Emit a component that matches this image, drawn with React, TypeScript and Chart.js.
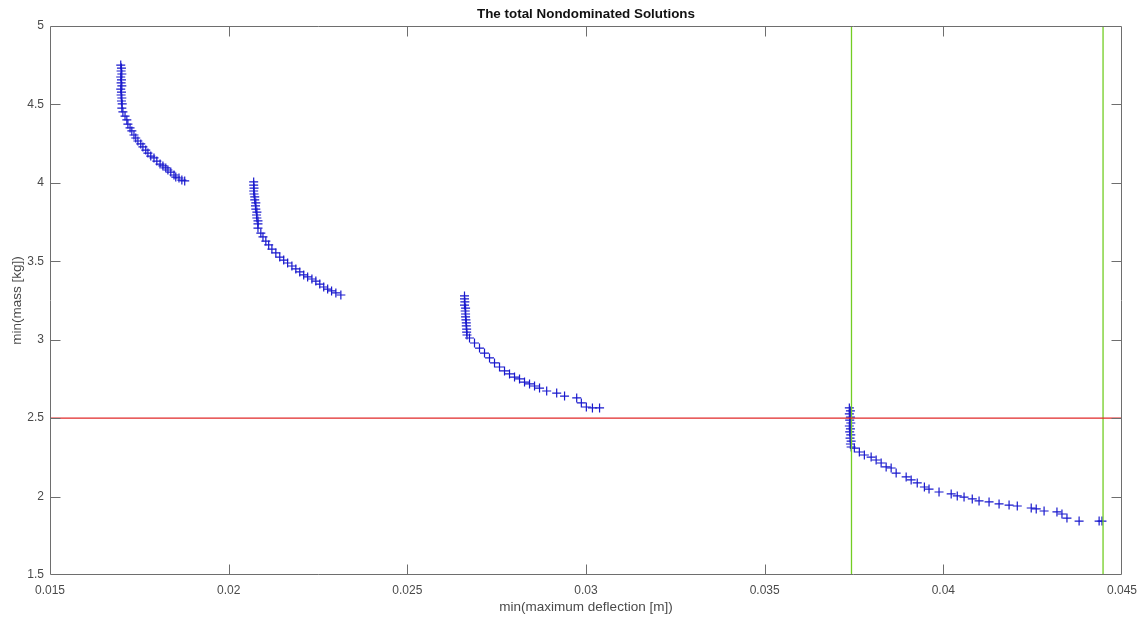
import React, { useEffect, useRef } from "react";
import { Chart, registerables } from "chart.js";

Chart.register(...registerables);

// Front 1
const front1X = [0.01698,0.01700,0.01699,0.01701,0.01698,0.01700,0.01699,0.01701,0.01698,0.01700,0.01699,0.01701,0.01700,0.01702,0.01701,0.01704,0.01710,0.01715,0.01718,0.01724,0.01729,0.01735,0.01740,0.01746,0.01754,0.01760,0.01768,0.01774,0.01782,0.01791,0.01799,0.01808,0.01816,0.01824,0.01830,0.01838,0.01847,0.01852,0.01861,0.01869,0.01877];
const front1Y = [4.751,4.732,4.713,4.694,4.675,4.656,4.637,4.618,4.598,4.579,4.560,4.541,4.522,4.503,4.477,4.452,4.426,4.401,4.375,4.350,4.331,4.305,4.286,4.267,4.248,4.229,4.209,4.190,4.171,4.159,4.139,4.120,4.108,4.095,4.082,4.069,4.050,4.037,4.031,4.018,4.012];

// Front 2
const front2X = [0.02070,0.02070,0.02071,0.02070,0.02071,0.02073,0.02073,0.02076,0.02075,0.02076,0.02079,0.02078,0.02079,0.02082,0.02082,0.02082,0.02090,0.02096,0.02104,0.02112,0.02121,0.02132,0.02143,0.02154,0.02165,0.02177,0.02188,0.02199,0.02210,0.02221,0.02233,0.02244,0.02255,0.02266,0.02277,0.02288,0.02300,0.02314];
const front2Y = [4.006,3.986,3.967,3.948,3.929,3.910,3.891,3.872,3.853,3.833,3.814,3.795,3.776,3.757,3.738,3.712,3.680,3.655,3.629,3.604,3.578,3.553,3.527,3.508,3.489,3.470,3.451,3.432,3.413,3.400,3.387,3.374,3.355,3.336,3.323,3.311,3.298,3.285];

// Front 3
const front3X = [0.02660,0.02660,0.02661,0.02660,0.02663,0.02662,0.02663,0.02663,0.02664,0.02665,0.02665,0.02666,0.02666,0.02667,0.02674,0.02688,0.02702,0.02716,0.02730,0.02744,0.02758,0.02772,0.02786,0.02800,0.02814,0.02828,0.02842,0.02856,0.02870,0.02890,0.02918,0.02940,0.02974,0.02987,0.03001,0.03018,0.03038];
const front3Y = [3.279,3.260,3.241,3.221,3.202,3.183,3.164,3.145,3.126,3.107,3.088,3.068,3.049,3.030,3.011,2.979,2.947,2.915,2.884,2.852,2.826,2.801,2.782,2.762,2.750,2.730,2.718,2.705,2.692,2.673,2.660,2.641,2.629,2.597,2.571,2.565,2.565];

// Front 4
const front4X = [0.03737,0.03740,0.03737,0.03740,0.03738,0.03741,0.03737,0.03740,0.03738,0.03741,0.03739,0.03742,0.03740,0.03742,0.03751,0.03765,0.03779,0.03798,0.03812,0.03826,0.03840,0.03854,0.03868,0.03896,0.03910,0.03927,0.03947,0.03960,0.03988,0.04022,0.04039,0.04058,0.04081,0.04100,0.04128,0.04156,0.04184,0.04207,0.04246,0.04260,0.04282,0.04318,0.04332,0.04346,0.04380,0.04436,0.04444];
const front4Y = [2.565,2.546,2.527,2.507,2.488,2.469,2.450,2.431,2.412,2.393,2.373,2.354,2.335,2.316,2.309,2.284,2.265,2.252,2.233,2.214,2.189,2.182,2.150,2.125,2.106,2.087,2.061,2.048,2.029,2.017,2.004,1.997,1.985,1.972,1.966,1.953,1.946,1.940,1.927,1.921,1.908,1.902,1.889,1.863,1.844,1.844,1.844];

// Reference lines
const massLimit = 2.5;
const deflectionLines = [0.03743, 0.04447];

// Axis ranges / ticks
const xMin = 0.015, xMax = 0.045, xStep = 0.005;
const yMin = 1.5, yMax = 5, yStep = 0.5;

const TITLE = "The total Nondominated Solutions";
const X_TITLE = "min(maximum deflection [m])";
const Y_TITLE = "min(mass [kg])";

const FONT = "'Liberation Sans', Arial, Helvetica, sans-serif";
const AXIS_COLOR = "#6e6e6e";
const TEXT_COLOR = "#4a4a4a";
const MARK_COLOR = "rgb(25,25,205)";
const GREEN = "rgb(115,205,35)";
const RED = "rgb(225,40,40)";

const zip = (xs: number[], ys: number[]) => xs.map((x, i) => ({ x, y: ys[i] }));

const boxPlugin = {
  id: "matlabBox",
  afterDraw(chart: any) {
    const { ctx, chartArea: a, scales } = chart;
    const L = Math.round(a.left) + 0.5, R = Math.round(a.right) - 0.5;
    const T = Math.round(a.top) + 0.5, B = Math.round(a.bottom) - 0.5;
    ctx.save();
    ctx.strokeStyle = AXIS_COLOR;
    ctx.lineWidth = 1;
    ctx.beginPath();
    ctx.rect(L, T, R - L, B - T);
    ctx.stroke();
    const tl = 10;
    ctx.beginPath();
    scales.x.ticks.forEach((t: any) => {
      const px = Math.round(scales.x.getPixelForValue(t.value)) + 0.5;
      if (px <= L + 1 || px >= R - 1) return;
      ctx.moveTo(px, B); ctx.lineTo(px, B - tl);
      ctx.moveTo(px, T); ctx.lineTo(px, T + tl);
    });
    scales.y.ticks.forEach((t: any) => {
      const py = Math.round(scales.y.getPixelForValue(t.value)) + 0.5;
      if (py <= T + 1 || py >= B - 1) return;
      ctx.moveTo(L, py); ctx.lineTo(L + tl, py);
      ctx.moveTo(R, py); ctx.lineTo(R - tl, py);
    });
    ctx.stroke();
    ctx.fillStyle = "#111";
    ctx.font = `bold 13.4px ${FONT}`;
    ctx.textAlign = "center";
    ctx.textBaseline = "middle";
    ctx.fillText(TITLE, (a.left + a.right) / 2, 14);
    ctx.restore();
  },
};

export default function App() {
  const ref = useRef<HTMLCanvasElement | null>(null);
  useEffect(() => {
    if (!ref.current) return;
    const pointDs = (xs: number[], ys: number[], label: string) => ({
      type: "scatter" as const,
      label,
      data: zip(xs, ys),
      pointStyle: "cross",
      pointRadius: 4.5,
      pointBorderWidth: 1.2,
      borderColor: MARK_COLOR,
      backgroundColor: MARK_COLOR,
      order: 2,
    });
    const lineDs = (data: { x: number; y: number }[], color: string, label: string) => ({
      type: "line" as const,
      label,
      data,
      borderColor: color,
      borderWidth: 1.3,
      pointRadius: 0,
      showLine: true,
      fill: false,
      order: 1,
    });
    const chart = new Chart(ref.current, {
      type: "scatter",
      data: {
        datasets: [
          lineDs([{ x: xMin, y: massLimit }, { x: xMax, y: massLimit }], RED, "mass limit"),
          ...deflectionLines.map((d, i) =>
            lineDs([{ x: d, y: yMin }, { x: d, y: yMax }], GREEN, "deflection " + i)
          ),
          pointDs(front1X, front1Y, "front 1"),
          pointDs(front2X, front2Y, "front 2"),
          pointDs(front3X, front3Y, "front 3"),
          pointDs(front4X, front4Y, "front 4"),
        ] as any,
      },
      options: {
        responsive: false,
        animation: false,
        events: [],
        layout: { padding: { top: 26, right: 22, bottom: 0, left: 0 } },
        plugins: { legend: { display: false }, tooltip: { enabled: false }, title: { display: false } },
        scales: {
          x: {
            type: "linear",
            min: xMin,
            max: xMax,
            afterFit: (s: any) => { s.height = 44; },
            afterBuildTicks: (s: any) => {
              const t = [];
              for (let v = xMin; v <= xMax + 1e-9; v += xStep) t.push({ value: +v.toFixed(3) });
              s.ticks = t;
            },
            ticks: {
              padding: 8,
              color: TEXT_COLOR,
              font: { family: FONT, size: 12 },
              maxRotation: 0,
              callback: (v: any) => String(+Number(v).toFixed(3)),
            },
            grid: { display: false, drawTicks: false },
            border: { display: false },
            title: {
              display: true,
              text: X_TITLE,
              color: TEXT_COLOR,
              font: { family: FONT, size: 13.5 },
              padding: { top: 0, bottom: 4 },
            },
          },
          y: {
            type: "linear",
            min: yMin,
            max: yMax,
            afterFit: (s: any) => { s.width = 50; },
            afterBuildTicks: (s: any) => {
              const t = [];
              for (let v = yMin; v <= yMax + 1e-9; v += yStep) t.push({ value: +v.toFixed(1) });
              s.ticks = t;
            },
            ticks: {
              padding: 6,
              color: TEXT_COLOR,
              font: { family: FONT, size: 12 },
              callback: (v: any) => String(+Number(v).toFixed(1)),
            },
            grid: { display: false, drawTicks: false },
            border: { display: false },
            title: {
              display: true,
              text: Y_TITLE,
              color: TEXT_COLOR,
              font: { family: FONT, size: 13.5 },
              padding: { top: 9, bottom: 0 },
            },
          },
        },
      } as any,
      plugins: [boxPlugin],
    });
    return () => chart.destroy();
  }, []);
  return (
    <div style={{ position: "absolute", left: 0, top: 0, width: 1145, height: 619, background: "#fff" }}>
      <canvas ref={ref} width={1145} height={619} style={{ display: "block" }} />
    </div>
  );
}
